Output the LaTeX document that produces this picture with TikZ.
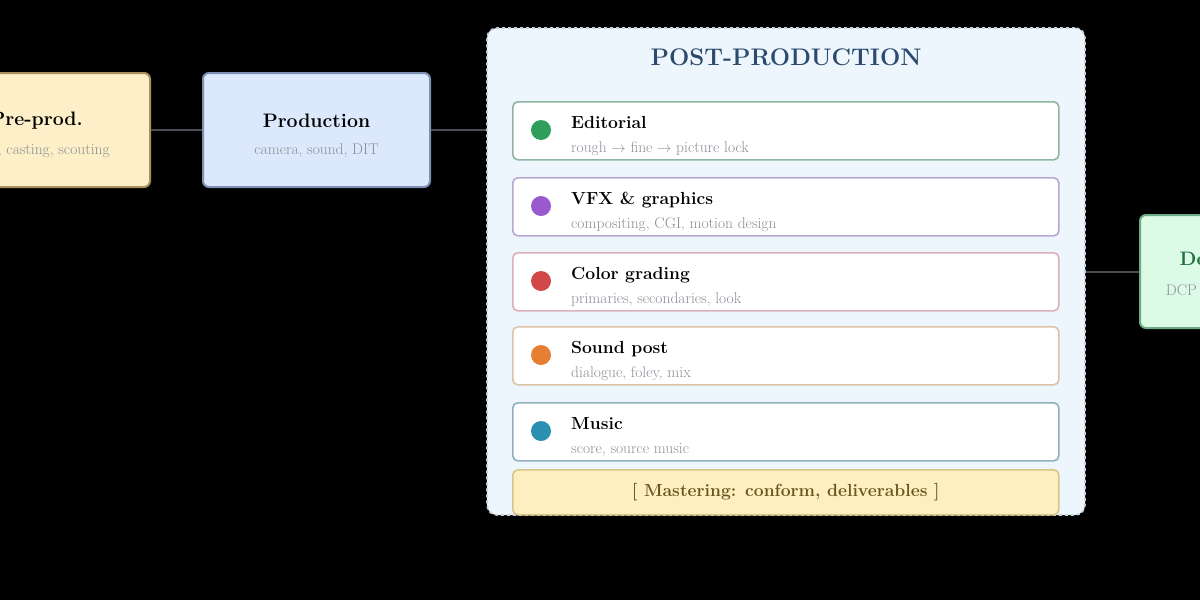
\documentclass[tikz,border=0pt]{standalone}
\usepackage{tikz}
\usetikzlibrary{positioning}

\definecolor{bgblack}{HTML}{000000}
\definecolor{prefill}{HTML}{FDF0C8}
\definecolor{predraw}{HTML}{A8915E}
\definecolor{prodfill}{HTML}{DCE8FB}
\definecolor{proddraw}{HTML}{7F90B5}
\definecolor{delfill}{HTML}{DCFBE6}
\definecolor{deldraw}{HTML}{6FA884}
\definecolor{postfill}{HTML}{EEF6FD}
\definecolor{postdraw}{HTML}{C5D0DA}
\definecolor{posttitle}{HTML}{2C4A6E}
\definecolor{subgray}{HTML}{8A8F96}
\definecolor{linkgray}{HTML}{4A4F55}
\definecolor{editdraw}{HTML}{8FB5A0}
\definecolor{vfxdraw}{HTML}{B9A6D3}
\definecolor{colordraw}{HTML}{DBB0B8}
\definecolor{sounddraw}{HTML}{DCC3A8}
\definecolor{musicdraw}{HTML}{8FB0BD}
\definecolor{masterfill}{HTML}{FDEFC0}
\definecolor{masterdraw}{HTML}{D9C58A}
\definecolor{mastertext}{HTML}{6B5420}
\definecolor{editdot}{HTML}{2E9E5A}
\definecolor{vfxdot}{HTML}{9B59D0}
\definecolor{colordot}{HTML}{D04848}
\definecolor{sounddot}{HTML}{E67E33}
\definecolor{musicdot}{HTML}{2A8FB0}

\tikzset{
  stagebox/.style={draw,rounded corners=6pt,line width=2pt,minimum width=227pt,minimum height=114pt,align=center},
  stagetitle/.style={font=\fontsize{19.5}{22}\selectfont\bfseries},
  stagesub/.style={font=\fontsize{15.5}{18}\selectfont,text=subgray},
  itembox/.style={draw,fill=white,rounded corners=5pt,line width=1.6pt,minimum width=546pt,minimum height=58pt,anchor=north west},
  itemdot/.style={circle,fill,inner sep=0pt,minimum size=20pt},
  itemtitle/.style={anchor=base west,inner sep=0pt,font=\fontsize{17.5}{20}\selectfont\bfseries},
  itemsub/.style={anchor=base west,inner sep=0pt,font=\fontsize{15.5}{18}\selectfont,text=subgray},
  link/.style={draw=linkgray,line width=2pt}
}

\begin{document}
\begin{tikzpicture}[x=1pt,y=-1pt]
  \fill[bgblack] (0,0) rectangle (1200,600);
  \useasboundingbox (0,0) rectangle (1200,600);
  \clip (0,0) rectangle (1200,600);

  % stages
  \node[stagebox,fill=prefill,draw=predraw] (preprod) at (36.5,130){};
  \node[stagetitle] at (36.5,121) (preprodt){Pre-prod.};
  \node[stagesub] at (36.5,151) (preprods){script, casting, scouting};
  \node[stagebox,fill=prodfill,draw=proddraw] (prod) at (316.5,130){};
  \node[stagetitle] at (316.5,121) (prodt){Production};
  \node[stagesub] at (316.5,151) (prods){camera, sound, DIT};
  \node[stagebox,fill=delfill,draw=deldraw,minimum width=160pt,minimum height=113pt] (deliv) at (1220,271.5){};
  \node[stagetitle,text=editdot!70!black] at (1220,261) (delivt){Delivery};
  \node[stagesub] at (1220,292) (delivs){DCP / streaming};

  % post-production group
  \node[draw=postdraw,dashed,fill=postfill,line width=1.6pt,rounded corners=10pt,minimum width=598pt,minimum height=487pt] (post) at (786,271.5){};
  \node[font=\fontsize{24}{28}\selectfont\bfseries,text=posttitle] (postt) at (786,57){POST-PRODUCTION};

  \node[itembox,draw=editdraw] (edit) at (512,101){};
  \node[itemdot,editdot] (editd) at (541,130){};
  \node[itemtitle] (editt) at (571,128){Editorial};
  \node[itemsub] (edits) at (571,152){rough $\rightarrow$ fine $\rightarrow$ picture lock};

  \node[itembox,draw=vfxdraw] (vfx) at (512,177){};
  \node[itemdot,vfxdot] (vfxd) at (541,206){};
  \node[itemtitle] (vfxt) at (571,204){VFX \& graphics};
  \node[itemsub] (vfxs) at (571,228){compositing, CGI, motion design};

  \node[itembox,draw=colordraw] (grade) at (512,252){};
  \node[itemdot,colordot] (graded) at (541,281){};
  \node[itemtitle] (gradet) at (571,279){Color grading};
  \node[itemsub] (grades) at (571,303){primaries, secondaries, look};

  \node[itembox,draw=sounddraw] (sound) at (512,326){};
  \node[itemdot,sounddot] (soundd) at (541,355){};
  \node[itemtitle] (soundt) at (571,353){Sound post};
  \node[itemsub] (sounds) at (571,377){dialogue, foley, mix};

  \node[itembox,draw=musicdraw] (music) at (512,402){};
  \node[itemdot,musicdot] (musicd) at (541,431){};
  \node[itemtitle] (musict) at (571,429){Music};
  \node[itemsub] (musics) at (571,453){score, source music};

  \node[itembox,draw=masterdraw,fill=masterfill,minimum height=45pt] (master) at (512,469){};
  \node[font=\fontsize{17.5}{20}\selectfont\bfseries,text=mastertext] (mastert) at (master.center){[ Mastering: conform, deliverables ]};

  % connectors
  \draw[link] (preprod.east) -- (prod.west);
  \draw[link] (prod.east) -- (prod.east -| post.west);
  \draw[link] (post.east) -- (deliv.west);
\end{tikzpicture}
\end{document}
